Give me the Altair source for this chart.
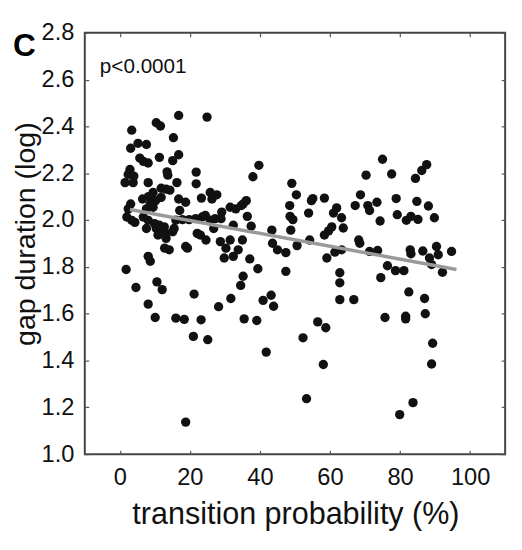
import altair as alt
import pandas as pd

# ---- data ----
transition_prob = [
    3.4, 10.4, 11.6, 15.3, 16.8, 24.9, 3.1, 5.2, 7.6, 5.7,
    6.7, 8.1, 11.3, 16.8, 15.1, 1.5, 2.4, 2.9, 3.8, 4.0,
    13.5, 13.7, 21.8, 8.1, 16.3, 21.8, 11.8, 13.2, 14.3, 9.5,
    8.2, 6.5, 11.8, 10.2, 8.7, 16.8, 18.8, 23.3, 25.8, 27.7,
    26.3, 3.1, 2.4, 7.6, 9.5, 17.1, 2.0, 3.4, 6.7, 8.1,
    9.9, 11.3, 12.7, 10.4, 11.8, 13.2, 15.1, 15.5, 16.0, 17.9,
    19.8, 21.6, 23.5, 24.4, 25.8, 27.2, 26.8, 22.1, 23.0, 24.6,
    10.9, 13.2, 12.8, 14.1, 8.1, 8.7, 1.8, 18.8, 19.3, 4.3,
    7.6,
    4.6, 10.6, 12.1, 8.1, 10.1, 16.0, 18.4, 21.2, 21.0, 23.2, 25.1, 18.8, 28.2,
    29.1, 28.9, 31.5, 33.1, 34.7, 36.1, 35.2, 32.4, 36.4, 37.5, 38.0, 39.7,
    28.7, 30.3, 31.5, 32.4, 29.8, 33.8, 35.0, 37.1, 39.4, 35.2, 31.7, 34.5, 35.5, 39.1,
    40.9, 43.2, 43.9, 41.8, 43.4, 43.6, 45.0, 47.4, 47.4, 49.1,
    50.4, 48.5, 48.6, 49.4, 48.8, 50.6, 53.9, 54.7, 55.1, 58.4,
    54.2, 52.3, 53.3, 56.5, 58.8, 58.1, 58.4, 59.6, 60.5, 59.1,
    61.0, 61.9, 63.3, 63.8, 61.4, 63.3, 62.8, 62.8, 62.8, 66.8,
    67.2, 68.7, 70.3, 70.8, 71.3, 73.4, 74.3, 75.0, 77.6, 78.9,
    79.2, 68.2, 68.5, 71.3, 73.6, 76.4, 78.7, 74.5, 75.7, 79.9,
    81.1, 81.8, 83.1, 85.1, 84.8, 84.4, 86.2, 87.6, 88.1, 89.8,
    82.9, 83.1, 86.5, 90.4, 90.9, 88.4, 89.0, 94.7, 92.1, 83.7,
    81.6, 81.6, 82.5, 87.0, 87.2, 89.3, 89.0,
]
gap_duration = [
    2.384, 2.416, 2.402, 2.352, 2.447, 2.44, 2.307, 2.328, 2.323, 2.265,
    2.251, 2.244, 2.268, 2.279, 2.254, 2.16, 2.195, 2.216, 2.16, 2.188,
    2.206, 2.192, 2.205, 2.16, 2.16, 2.155, 2.136, 2.132, 2.128, 2.118,
    2.1, 2.09, 2.097, 2.083, 2.069, 2.09, 2.076, 2.094, 2.118, 2.108,
    2.09, 2.069, 2.048, 2.048, 2.055, 2.041, 2.013, 1.999, 2.013, 1.999,
    1.985, 1.978, 1.971, 1.964, 1.95, 1.943, 1.95, 1.964, 2.0, 2.002,
    2.002, 2.006, 2.013, 2.02, 2.0, 2.006, 1.964, 1.943, 1.936, 1.915,
    1.936, 1.922, 1.88, 1.873, 1.845, 1.824, 1.789, 1.887, 1.88, 1.99,
    1.964,
    1.712, 1.736, 1.703, 1.641, 1.584, 1.581, 1.576, 1.684, 1.503, 1.574, 1.489, 1.137, 1.63,
    2.034, 2.006, 2.055, 2.048, 2.062, 2.083, 2.069, 1.978, 2.016, 1.974, 2.185, 2.234,
    1.908, 1.88, 1.915, 1.845, 1.838, 1.873, 1.915, 1.834, 1.792, 1.76, 1.665, 1.721, 1.578, 1.571,
    1.657, 1.679, 1.632, 1.436, 1.957, 1.901, 1.873, 1.861, 1.781, 2.157,
    2.108, 2.062, 2.016, 2.002, 1.957, 1.891, 2.03, 2.083, 2.092, 2.094,
    1.915, 1.497, 1.237, 1.565, 1.54, 1.383, 1.936, 1.954, 1.971, 1.838,
    2.03, 2.052, 2.01, 1.966, 1.863, 1.873, 1.775, 1.732, 1.66, 1.66,
    2.062, 2.108, 2.192, 2.062, 2.041, 2.076, 1.996, 2.26, 2.197, 2.092,
    2.023, 1.915, 1.901, 1.866, 1.87, 1.805, 1.784, 1.754, 1.584, 1.169,
    1.784, 1.999, 2.016, 2.003, 2.08, 2.178, 2.212, 2.237, 2.06, 2.01,
    1.873, 1.856, 1.868, 1.887, 1.852, 1.838, 1.81, 1.866, 1.777, 1.22,
    1.589, 1.578, 1.693, 1.665, 1.6, 1.474, 1.385,
]

# fitted regression line end points (as drawn in the reference)
fit_x = [2.9, 96.1]
fit_y = [2.045, 1.789]

# annotations
p_label = ["p<0.0001"]
p_x = [-5.7]
p_y = [2.628]
panel_label = ["C"]

x_ticks = [0, 20, 40, 60, 80, 100]
y_ticks = [1.0, 1.2, 1.4, 1.6, 1.8, 2.0, 2.2, 2.4, 2.6, 2.8]
x_domain = [-10, 110]
y_domain = [1.0, 2.8]

FONT = "Liberation Sans"
INK = "#111111"
TICK = "#555555"

pts_df = pd.DataFrame({"prob": transition_prob, "gap": gap_duration})
fit_df = pd.DataFrame({"fx": fit_x, "fy": fit_y})
p_df = pd.DataFrame({"px": p_x, "py": p_y, "label": p_label})
c_df = pd.DataFrame({"label": panel_label})

xscale = alt.Scale(domain=x_domain, nice=False, zero=False)
yscale = alt.Scale(domain=y_domain, nice=False, zero=False)


def tick_axis(orient, values):
    return alt.Axis(orient=orient, offset=-4, values=values, labels=False,
                    domain=False, ticks=True, tickSize=4, tickColor=TICK,
                    tickWidth=1.2, title=None, grid=False)


points = alt.Chart(pts_df).mark_circle(size=90, color=INK, opacity=1).encode(
    x=alt.X("prob:Q", scale=xscale, axis=alt.Axis(
        orient="bottom", values=x_ticks, format="d", ticks=False, tickSize=0,
        domain=False, grid=False, labelPadding=12, labelFontSize=24,
        labelFont=FONT, labelColor=INK, labelOverlap=False, labelFlush=False,
        title="transition probability (%)", titleFont=FONT, titleFontSize=31,
        titleFontWeight="normal", titleColor=INK, titleX=214, titleY=70,
        titleBaseline="alphabetic", titleAlign="center")),
    y=alt.Y("gap:Q", scale=yscale, axis=alt.Axis(
        orient="left", values=y_ticks, format=".1f", ticks=False, tickSize=0,
        domain=False, grid=False, labelPadding=11, labelFontSize=24,
        labelFont=FONT, labelColor=INK, labelOverlap=False, labelFlush=False,
        title="gap duration (log)", titleFont=FONT, titleFontSize=29,
        titleFontWeight="normal", titleColor=INK, titleAngle=270,
        titleX=-51, titleY=204, titleBaseline="alphabetic", titleAlign="center")),
)

fit = alt.Chart(fit_df).mark_line(color="#9a9a9a", strokeWidth=3.5).encode(
    x=alt.X("fx:Q", scale=xscale, axis=tick_axis("bottom", x_ticks)),
    y=alt.Y("fy:Q", scale=yscale, axis=tick_axis("left", y_ticks)),
)

ptext = alt.Chart(p_df).mark_text(align="left", baseline="alphabetic",
                                  fontSize=21, font=FONT, color=INK).encode(
    x=alt.X("px:Q", scale=xscale, axis=tick_axis("top", x_ticks)),
    y=alt.Y("py:Q", scale=yscale, axis=tick_axis("right", y_ticks)),
    text="label:N",
)

panel = alt.Chart(c_df).mark_text(align="left", baseline="alphabetic",
                                  fontSize=32, fontWeight="bold", font=FONT,
                                  color="#000000").encode(
    x=alt.value(-73), y=alt.value(24), text="label:N",
)

chart = alt.layer(points, fit, ptext, panel).resolve_axis(
    x="independent", y="independent"
).properties(
    width=427,
    height=428,
    autosize=alt.AutoSizeParams(type="none"),
    padding={"left": 78, "top": 21, "right": 9, "bottom": 84},
).configure_view(stroke="#444444", strokeWidth=2).configure_axis(grid=False)

chart.save("out.html", embed_options={"renderer": "svg", "actions": False})
